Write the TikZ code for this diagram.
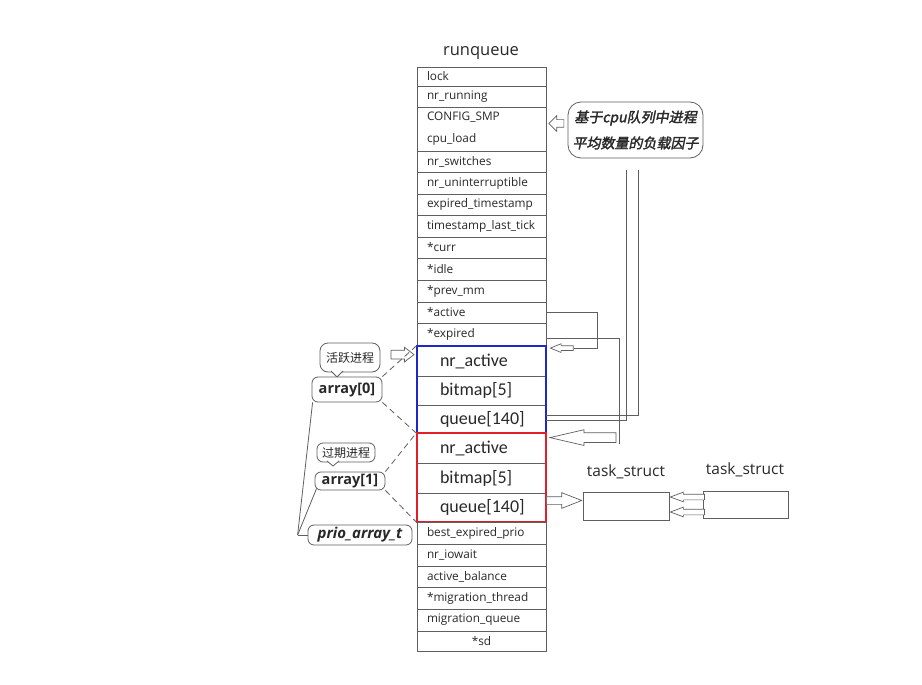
\documentclass[tikz,border=0pt]{standalone}
\usepackage{fontspec}
\setmainfont{Open Sans}
\newfontfamily\boxfont{Carlito}
\newfontfamily\cjk{Noto Sans CJK SC}
\newfontfamily\cjkbi[FakeSlant=0.2,FakeBold=2]{Noto Sans CJK SC}
\usetikzlibrary{shapes.arrows,calc}
\definecolor{lgray}{RGB}{95,95,95}
\definecolor{tcol}{RGB}{40,40,40}
\definecolor{bblue}{RGB}{30,40,200}
\definecolor{rred}{RGB}{228,30,40}
\tikzset{
  rowbox/.style={draw=lgray, line width=0.8pt, minimum width=129pt, inner xsep=10pt, inner ysep=0pt,
    text width=109pt, align=left, font=\fontsize{11.8}{13}\selectfont, text=tcol},
  bigrow/.style={draw=lgray, line width=0.8pt, minimum width=129pt, inner xsep=23pt, inner ysep=0pt,
    text width=83pt, align=left, font=\boxfont\fontsize{18}{20}\selectfont, text=tcol},
  bubble/.style={draw=lgray, line width=0.8pt, rounded corners=6pt, fill=white, inner sep=0pt, text=tcol},
  conn/.style={draw=lgray, line width=0.8pt},
  dashline/.style={draw=lgray, line width=0.8pt, dash pattern=on 6pt off 4pt},
  harrow/.style n args={5}{single arrow, draw=lgray, fill=white, line width=0.7pt, inner xsep=0pt,
    inner ysep=#2, minimum height=#1, single arrow head extend=#3, single arrow tip angle=#4,
    shape border rotate=#5, anchor=tip},
  tbox/.style={draw=lgray, line width=0.8pt, inner sep=0pt},
  lbl/.style={font=\fontsize{15.5}{18}\selectfont, text=tcol, inner sep=0pt},
}
\begin{document}
\begin{tikzpicture}[x=1pt,y=-1pt]
\useasboundingbox (0,0) rectangle (922,685);
\fill[white] (0,0) rectangle (922,685);

\node[font=\fontsize{16.5}{19}\selectfont, text=tcol] (title) at (481,53) {runqueue};

\node[rowbox, minimum height=19pt] (lock) at (481.5,76.5) {lock};
\node[rowbox, minimum height=21pt] (nrrun) at (481.5,96.5) {nr\_running};
\node[rowbox, minimum height=44pt] (smp) at (481.5,129) {CONFIG\_SMP\\[9pt]cpu\_load};
\node[rowbox, minimum height=21pt] (nrsw) at (481.5,161.5) {nr\_switches};
\node[rowbox, minimum height=22pt] (nrun) at (481.5,183) {nr\_uninterruptible};
\node[rowbox, minimum height=21pt] (expts) at (481.5,204.5) {expired\_timestamp};
\node[rowbox, minimum height=22pt] (tslt) at (481.5,226) {timestamp\_last\_tick};
\node[rowbox, minimum height=21pt] (curr) at (481.5,247.5) {*curr};
\node[rowbox, minimum height=22pt] (idle) at (481.5,269) {*idle};
\node[rowbox, minimum height=22pt] (prevmm) at (481.5,291) {*prev\_mm};
\node[rowbox, minimum height=21pt] (active) at (481.5,312.5) {*active};
\node[rowbox, minimum height=23pt] (expired) at (481.5,334.5) {*expired};

\node[bigrow, minimum height=30pt] (bna) at (481.5,361) {nr\_active};
\node[bigrow, minimum height=29pt] (bbm) at (481.5,390.5) {bitmap[5]};
\node[bigrow, minimum height=28pt] (bq) at (481.5,419) {queue[140]};
\node[bigrow, minimum height=30pt] (rna) at (481.5,448) {nr\_active};
\node[bigrow, minimum height=30pt] (rbm) at (481.5,478) {bitmap[5]};
\node[bigrow, minimum height=29pt] (rq) at (481.5,507.5) {queue[140]};
\draw[bblue, line width=2pt] (bna.north west) rectangle (bq.south east);
\draw[rred, line width=2pt] (rna.north west) rectangle (rq.south east);

\node[rowbox, minimum height=22pt] (bep) at (481.5,533) {best\_expired\_prio};
\node[rowbox, minimum height=22pt] (iow) at (481.5,555) {nr\_iowait};
\node[rowbox, minimum height=21pt] (actb) at (481.5,576.5) {active\_balance};
\node[rowbox, minimum height=22pt] (migt) at (481.5,598) {*migration\_thread};
\node[rowbox, minimum height=22pt] (migq) at (481.5,620) {migration\_queue};
\node[rowbox, minimum height=20pt, align=center] (sd) at (481.5,641) {*sd};

% load factor bubble
\node[bubble, rounded corners=13pt, minimum width=135pt, minimum height=56pt, align=center,
  font=\cjkbi\fontsize{14}{26}\selectfont] (lf) at (635.5,130) {基于cpu队列中进程\\平均数量的负载因子};
\node[harrow={15pt}{3.5pt}{4pt}{90}{180}] (a1) at ($(smp.east)+(2,-5.5)$) {};

% connectors from *active / *expired
\node[harrow={23pt}{2pt}{2pt}{44}{180}] (a3) at ($(bna.north east)+(3,2.5)$) {};
\draw[conn] (active.east) -| ($(a3.tail)+(24,0)$) -- (a3.tail);
\node[harrow={66pt}{4.5pt}{3pt}{26}{180}] (a4) at ($(rna.north east)+(2,5)$) {};
\draw[conn] ($(expired.east)+(0,3.5)$) -| ($(a4.tail)+(3,6)$);

% double lines below the bubble
\draw[conn] ($(lf.south)+(-9.5,12)$) |- ($(bq.east)+(0,1)$);
\draw[conn] ($(lf.south)+(2.5,12)$) |- ($(bq.east)+(0,-4)$);

% left side bubbles
\node[bubble, rounded corners=8pt, minimum width=60pt, minimum height=29pt, font=\cjk\fontsize{12}{14}\selectfont] (hy) at (350,357.5) {活跃进程};
\filldraw[draw=lgray, fill=white, line width=0.8pt] (331,371) -- (337,377) -- (343,371);
\node[harrow={23pt}{4pt}{3pt}{75}{0}] (a2) at ($(bna.north west)+(-2,9)$) {};
\node[bubble, minimum width=70pt, minimum height=25pt, font=\bfseries\fontsize{14.5}{16}\selectfont] (a0) at (347,389.5) {array[0]};

\node[bubble, minimum width=58pt, minimum height=19pt, font=\cjk\fontsize{12}{14}\selectfont] (gq) at (346,452.5) {过期进程};
\filldraw[draw=lgray, fill=white, line width=0.8pt] (327,461) -- (333,466) -- (339,461);
\node[bubble, minimum width=70pt, minimum height=18pt, font=\bfseries\fontsize{14.5}{16}\selectfont] (a1n) at (350,481) {array[1]};

\node[bubble, minimum width=104pt, minimum height=20pt, font=\bfseries\itshape\fontsize{15}{17}\selectfont] (prio) at (360,535) {prio\_array\_t};

\draw[dashline] (a0.north east) -- (bna.north west);
\draw[dashline] (a0.south east) -- (bq.south west);
\draw[dashline] (a1n.north east) -- (rna.north west);
\draw[dashline] (a1n.south east) -- (rq.south west);

\coordinate (br) at ($(prio.west)+(-10,0)$);
\draw[conn] (prio.west) -- (br);
\draw[conn] ($(a0.south west)+(1,0)$) -- (br);
\draw[conn] ($(a1n.south west)+(2,-2)$) -- (br);

% task structs
\node[tbox, minimum width=86pt, minimum height=28pt] (t1) at (626,506) {};
\node[tbox, minimum width=85pt, minimum height=27pt] (t2) at (745.5,504.5) {};
\node[lbl] (l1) at (626,472) {task\_struct};
\node[lbl] (l2) at (745,470) {task\_struct};
\node[harrow={35pt}{3.5pt}{4pt}{43}{0}] (a5) at ($(t1.west)+(0,-5.5)$) {};
\node[harrow={34pt}{2.5pt}{2pt}{41}{180}] (a6) at ($(t1.east)+(0,-9)$) {};
\node[harrow={34pt}{2.5pt}{2pt}{41}{180}] (a7) at ($(t1.east)+(0,6)$) {};
\end{tikzpicture}
\end{document}
